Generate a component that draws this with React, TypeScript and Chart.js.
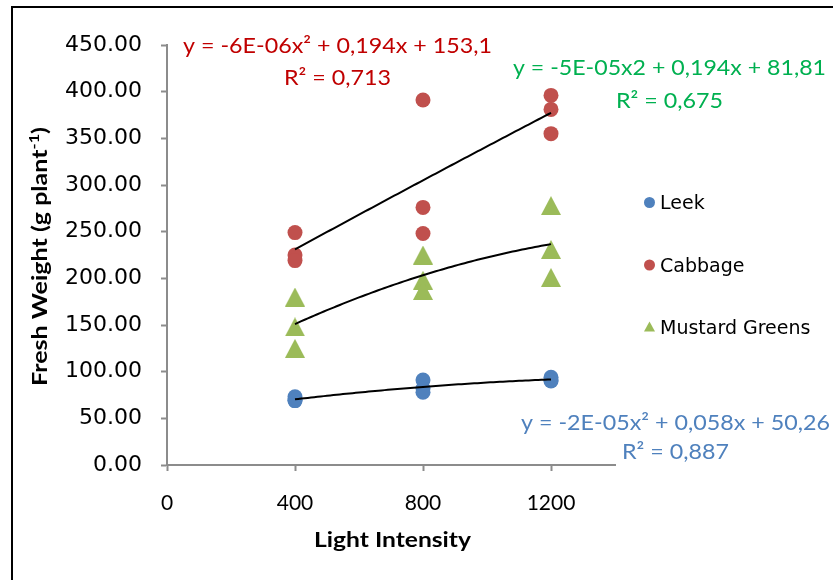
import React, { useEffect, useRef } from 'react';
import { Chart, registerables } from 'chart.js';

Chart.register(...registerables);

// ---- data ----
const seriesNames = ['Leek', 'Cabbage', 'Mustard Greens'];
const intensityX = [400, 400, 400, 800, 800, 800, 1200, 1200, 1200];
const leekWeight = [73, 69, 69, 91, 82, 78, 94, 91, 90];
const cabbageWeight = [249, 225, 219, 391, 276, 248, 396, 381, 355];
const mustardWeight = [180, 148, 125, 225, 198, 187, 278, 231, 201];
const xAxisMax = 1400;
const xTickStep = 400;
const yAxisMax = 450;
const yTickStep = 50;
const trendEquations = [
  'y = -2E-05x² + 0,058x + 50,26',
  'y = -6E-06x² + 0,194x + 153,1',
  'y = -5E-05x2 + 0,194x + 81,81',
];
const trendR2 = ['R² = 0,887', 'R² = 0,713', 'R² = 0,675'];
const xAxisTitle = 'Light Intensity';
const yAxisTitle = 'Fresh Weight (g plant';
const yAxisTitleSup = '-1';

// ---- styles ----
const markerColors = ['#4F81BD', '#C0504D', '#9BBB59'];
const equationColors = ['#4F81BD', '#C00000', '#00B050'];
const axisColor = '#8C8C8C';

// least-squares quadratic fit (Excel polynomial trendline, order 2)
function fitQuadratic(xs: number[], ys: number[]) {
  const t = xs.map((x) => x / 1000);
  let s0 = 0, s1 = 0, s2 = 0, s3 = 0, s4 = 0, sy = 0, sty = 0, st2y = 0;
  for (let i = 0; i < t.length; i++) {
    const a = t[i];
    const y = ys[i];
    s0 += 1; s1 += a; s2 += a * a; s3 += a * a * a; s4 += a * a * a * a;
    sy += y; sty += a * y; st2y += a * a * y;
  }
  const det3 = (m: number[][]) =>
    m[0][0] * (m[1][1] * m[2][2] - m[1][2] * m[2][1]) -
    m[0][1] * (m[1][0] * m[2][2] - m[1][2] * m[2][0]) +
    m[0][2] * (m[1][0] * m[2][1] - m[1][1] * m[2][0]);
  const M = [[s0, s1, s2], [s1, s2, s3], [s2, s3, s4]];
  const B = [sy, sty, st2y];
  const D = det3(M);
  const coef = [0, 1, 2].map((k) => {
    const Mk = M.map((row, r) => row.map((v, c) => (c === k ? B[r] : v)));
    return det3(Mk) / D;
  });
  return (x: number) => {
    const a = x / 1000;
    return coef[0] + coef[1] * a + coef[2] * a * a;
  };
}

function trendPoints(xs: number[], ys: number[]) {
  const f = fitQuadratic(xs, ys);
  const lo = Math.min(...xs);
  const hi = Math.max(...xs);
  const pts: { x: number; y: number }[] = [];
  for (let x = lo; x <= hi + 1e-9; x += 10) pts.push({ x, y: f(x) });
  return pts;
}

function makeTriangle(w: number, h: number, color: string) {
  const c = document.createElement('canvas');
  c.width = w;
  c.height = h;
  const g = c.getContext('2d')!;
  g.fillStyle = color;
  g.beginPath();
  g.moveTo(w / 2, 0);
  g.lineTo(w, h);
  g.lineTo(0, h);
  g.closePath();
  g.fill();
  return c;
}

function drawFitted(ctx: CanvasRenderingContext2D, text: string, cx: number, baseline: number, targetW: number, font: string, color: string) {
  ctx.save();
  ctx.font = font;
  const w = ctx.measureText(text).width;
  ctx.translate(cx, baseline);
  ctx.scale(targetW / w, 1);
  ctx.fillStyle = color;
  ctx.textAlign = 'center';
  ctx.textBaseline = 'alphabetic';
  ctx.fillText(text, 0, 0);
  ctx.restore();
}

const overlayPlugin = {
  id: 'overlay',
  afterDraw(chart: any) {
    const ctx: CanvasRenderingContext2D = chart.ctx;
    ctx.save();
    // frame (top and left edges)
    ctx.fillStyle = '#000';
    ctx.fillRect(11, 6, 833 - 11, 2);
    ctx.fillRect(11, 6, 2, 580 - 6);

    // trendline equations
    const eqFont = '22px Lato';
    const eqPos = [
      { cx: 675.5, eqBase: 430, r2Base: 458.5, eqW: 309 },
      { cx: 337.5, eqBase: 53.3, r2Base: 85, eqW: 309 },
      { cx: 669.5, eqBase: 75, r2Base: 108.3, eqW: 313 },
    ];
    eqPos.forEach((p, i) => {
      drawFitted(ctx, trendEquations[i], p.cx, p.eqBase, p.eqW, eqFont, equationColors[i]);
      drawFitted(ctx, trendR2[i], p.cx, p.r2Base, 107, eqFont, equationColors[i]);
    });

    // legend
    const legendYs = [202.5, 265, 327];
    const lx = 649.5;
    seriesNames.forEach((name, i) => {
      const y = legendYs[i];
      ctx.fillStyle = markerColors[i];
      ctx.beginPath();
      if (i < 2) {
        ctx.arc(lx, y, 5.5, 0, Math.PI * 2);
      } else {
        ctx.moveTo(lx, y - 5.5);
        ctx.lineTo(lx + 5.5, y + 4.5);
        ctx.lineTo(lx - 5.5, y + 4.5);
        ctx.closePath();
      }
      ctx.fill();
      ctx.fillStyle = '#000';
      ctx.font = '19px "DejaVu Sans"';
      ctx.textAlign = 'left';
      ctx.textBaseline = 'alphabetic';
      ctx.fillText(name, 660, y + 6.9);
    });

    // x axis title
    drawFitted(ctx, xAxisTitle, 392.5, 546.5, 157, 'bold 21px Lato', '#000');

    // y axis title (rotated, with superscript)
    ctx.save();
    ctx.translate(40, 256.5);
    ctx.rotate(-Math.PI / 2);
    const mainFont = 'bold 20px Lato';
    const supFont = 'bold 13px Lato';
    ctx.font = mainFont;
    const w1 = ctx.measureText(yAxisTitle).width;
    const w3 = ctx.measureText(')').width;
    ctx.font = supFont;
    const w2 = ctx.measureText(yAxisTitleSup).width;
    const total = w1 + w2 + w3;
    ctx.scale(259 / total, 1);
    ctx.fillStyle = '#000';
    ctx.textAlign = 'left';
    ctx.textBaseline = 'alphabetic';
    let x = -total / 2;
    ctx.font = mainFont;
    ctx.fillText(yAxisTitle, x, 7);
    x += w1;
    ctx.font = supFont;
    ctx.fillText(yAxisTitleSup, x, -1);
    x += w2;
    ctx.font = mainFont;
    ctx.fillText(')', x, 7);
    ctx.restore();

    ctx.restore();
  },
};

export default function App() {
  const ref = useRef<HTMLCanvasElement | null>(null);

  useEffect(() => {
    if (!ref.current) return;
    const triangle = makeTriangle(20, 19, markerColors[2]);
    const scatterBase = {
      type: 'scatter' as const,
      showLine: false,
      pointRadius: 7.5,
      pointHoverRadius: 7.5,
      pointBorderWidth: 0,
      order: 1,
    };
    const trendBase = {
      type: 'scatter' as const,
      showLine: true,
      borderColor: '#000',
      borderWidth: 2,
      pointRadius: 0,
      pointHoverRadius: 0,
      fill: false,
      tension: 0,
      order: 0,
    };
    const seriesY = [leekWeight, cabbageWeight, mustardWeight];
    const datasets: any[] = [];
    seriesY.forEach((ys, i) => {
      datasets.push({
        ...scatterBase,
        label: seriesNames[i],
        data: ys.map((y, k) => ({ x: intensityX[k], y })),
        backgroundColor: markerColors[i],
        borderColor: markerColors[i],
        pointStyle: i === 2 ? triangle : 'circle',
      });
    });
    seriesY.forEach((ys, i) => {
      datasets.push({
        ...trendBase,
        label: seriesNames[i] + ' trend',
        data: trendPoints(intensityX, ys),
      });
    });

    const chart = new Chart(ref.current, {
      type: 'scatter',
      data: { datasets },
      options: {
        responsive: false,
        animation: false,
        events: [],
        layout: { padding: { left: 0, top: 45, right: 218, bottom: 0 } },
        plugins: {
          legend: { display: false },
          tooltip: { enabled: false },
          title: { display: false },
        },
        scales: {
          x: {
            type: 'linear',
            min: 0,
            max: xAxisMax,
            afterFit: (s: any) => { s.height = 115; },
            ticks: {
              stepSize: xTickStep,
              includeBounds: false,
              color: '#000',
              padding: 20,
              font: { family: 'Lato', size: 21 },
              maxRotation: 0,
              callback: (v: any) => String(v),
            },
            grid: { drawOnChartArea: false, drawTicks: true, tickLength: 6, color: axisColor, tickWidth: 2 },
            border: { display: true, color: axisColor, width: 2 },
          },
          y: {
            type: 'linear',
            min: 0,
            max: yAxisMax,
            afterFit: (s: any) => { s.width = 167; },
            ticks: {
              stepSize: yTickStep,
              color: '#000',
              padding: 19,
              font: { family: '"DejaVu Sans"', size: 22 },
              callback: (v: any) => Number(v).toFixed(2),
            },
            grid: { drawOnChartArea: false, drawTicks: true, tickLength: 6, color: axisColor, tickWidth: 2 },
            border: { display: true, color: axisColor, width: 2 },
          },
        },
      },
      plugins: [overlayPlugin],
    });
    return () => chart.destroy();
  }, []);

  return (
    <div style={{ position: 'absolute', left: 0, top: 0, width: 833, height: 580, background: '#fff' }}>
      <canvas ref={ref} width={833} height={580} style={{ display: 'block' }} />
    </div>
  );
}
